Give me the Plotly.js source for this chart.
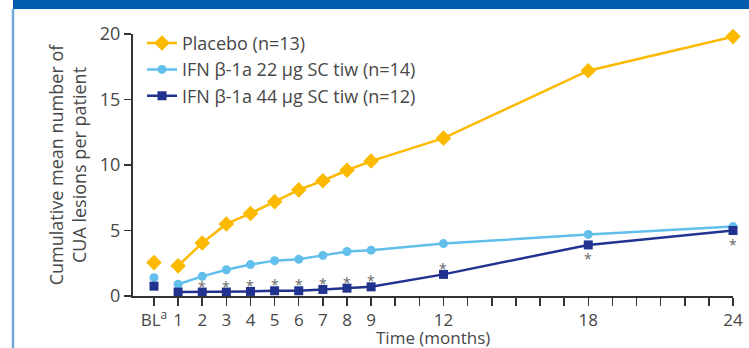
<!DOCTYPE html>
<html>
<head>
<meta charset="utf-8">
<script src="https://cdn.plot.ly/plotly-3.0.1.min.js"></script>
<style>
  html, body { margin: 0; padding: 0; background: #fff; }
  #chart { width: 749px; height: 348px; }
</style>
</head>
<body>
<div id="chart"></div>
<script>
// ---- Data ----
const months = [1, 2, 3, 4, 5, 6, 7, 8, 9, 12, 18, 24];
const placebo = [2.3, 4.05, 5.5, 6.3, 7.2, 8.1, 8.8, 9.6, 10.3, 12.05, 17.2, 19.8];
const ifn22 = [0.9, 1.5, 2.0, 2.4, 2.7, 2.8, 3.1, 3.4, 3.5, 4.0, 4.7, 5.3];
const ifn44 = [0.3, 0.3, 0.3, 0.35, 0.4, 0.4, 0.5, 0.6, 0.7, 1.65, 3.9, 5.0];
const baselineX = [0];
const baselinePlacebo = [2.55];
const baselineIfn22 = [1.4];
const baselineIfn44 = [0.75];
const seriesNames = ["Placebo (n=13)", "IFN β-1a 22 μg SC tiw (n=14)", "IFN β-1a 44 μg SC tiw (n=12)"];
const sigAboveMonths = [2, 3, 4, 5, 6, 7, 8, 9, 12];
const sigBelowMonths = [18, 24];
const tickMonths = [0,1,2,3,4,5,6,7,8,9,10,11,12,13,14,15,16,17,18,19,20,21,22,23,24];
const tickLabelMap = {0: "BL<sup>a</sup>", 1: "1", 2: "2", 3: "3", 4: "4", 5: "5", 6: "6", 7: "7", 8: "8", 9: "9", 12: "12", 18: "18", 24: "24"};
const yTicks = [0, 5, 10, 15, 20];
const xTitle = "Time (months)";
const yTitle = "Cumulative mean number of<br>CUA lesions per patient";

// ---- Styles ----
const cPlacebo = "#FBB900";
const c22 = "#62BFEC";
const c44 = "#22338F";
const textColor = "#474747";
const font = "'Open Sans', Roboto, 'Liberation Sans', Arial, sans-serif";
const fs = 18;

const traces = [
  {x: months, y: placebo, name: seriesNames[0], mode: "lines+markers", type: "scatter",
   line: {color: cPlacebo, width: 2.5}, marker: {symbol: "diamond", size: 12, color: cPlacebo}, cliponaxis: false},
  {x: months, y: ifn22, name: seriesNames[1], mode: "lines+markers", type: "scatter",
   line: {color: c22, width: 2.5}, marker: {symbol: "circle", size: 9, color: c22}, cliponaxis: false},
  {x: months, y: ifn44, name: seriesNames[2], mode: "lines+markers", type: "scatter",
   line: {color: c44, width: 2.5}, marker: {symbol: "square", size: 9, color: c44}, cliponaxis: false},
  {x: baselineX, y: baselinePlacebo, mode: "markers", type: "scatter", showlegend: false, hoverinfo: "skip",
   marker: {symbol: "diamond", size: 12, color: cPlacebo}, cliponaxis: false},
  {x: baselineX, y: baselineIfn22, mode: "markers", type: "scatter", showlegend: false, hoverinfo: "skip",
   marker: {symbol: "circle", size: 9, color: c22}, cliponaxis: false},
  {x: baselineX, y: baselineIfn44, mode: "markers", type: "scatter", showlegend: false, hoverinfo: "skip",
   marker: {symbol: "square", size: 9, color: c44}, cliponaxis: false}
];

const annotations = [];
sigAboveMonths.forEach(m => {
  annotations.push({x: m, y: ifn44[months.indexOf(m)], text: "*", showarrow: false,
    yshift: 6, font: {size: 14, color: "#666", family: font}, xref: "x", yref: "y"});
});
sigBelowMonths.forEach(m => {
  annotations.push({x: m, y: ifn44[months.indexOf(m)], text: "*", showarrow: false,
    yshift: -14, font: {size: 14, color: "#666", family: font}, xref: "x", yref: "y"});
});
annotations.push({x: 0.5, y: -41/262, xref: "paper", yref: "paper", xanchor: "center", yanchor: "middle",
  text: xTitle, showarrow: false, font: {size: 17, color: textColor, family: font}});

const layout = {
  width: 749, height: 348,
  margin: {l: 133, r: 16, t: 34, b: 52, pad: 0},
  paper_bgcolor: "#ffffff", plot_bgcolor: "#ffffff",
  font: {family: font, size: fs, color: textColor},
  showlegend: true,
  legend: {x: 0.015, y: 1.035, xanchor: "left", yanchor: "top", bgcolor: "rgba(0,0,0,0)",
    font: {size: fs, color: textColor, family: font}, tracegroupgap: 0, itemwidth: 30},
  xaxis: {
    range: [-0.87, 24], tickmode: "array", tickvals: tickMonths,
    ticktext: tickMonths.map(m => tickLabelMap[m] || ""),
    ticks: "outside", ticklen: 8, tickwidth: 1.5, tickcolor: "#333",
    showline: true, linecolor: "#333", linewidth: 2, showgrid: false, zeroline: false,
    tickfont: {size: 17, color: textColor},
    automargin: false,
    fixedrange: true
  },
  yaxis: {
    range: [0, 20], tickmode: "array", tickvals: yTicks,
    ticks: "outside", ticklen: 7, tickwidth: 1.5, tickcolor: "#333",
    showline: true, linecolor: "#333", linewidth: 2, showgrid: false, zeroline: false,
    tickfont: {size: fs, color: textColor},
    title: {text: yTitle, font: {size: fs, color: textColor}, standoff: 8},
    automargin: false,
    fixedrange: true
  },
  annotations: annotations,
  shapes: [
    {type: "rect", xref: "paper", yref: "paper", x0: -120/600, x1: 1 + 16/600,
     y0: 1 + 25/262, y1: 1 + 40/262, fillcolor: "#005BAC", line: {width: 0}, layer: "above"},
    {type: "line", xref: "paper", yref: "paper", x0: -120/600, x1: -120/600,
     y0: -52/262, y1: 1 + 25/262, line: {color: "#6FA8DC", width: 2.5}}
  ]
};

Plotly.newPlot("chart", traces, layout, {displayModeBar: false, staticPlot: true});
</script>
</body>
</html>
